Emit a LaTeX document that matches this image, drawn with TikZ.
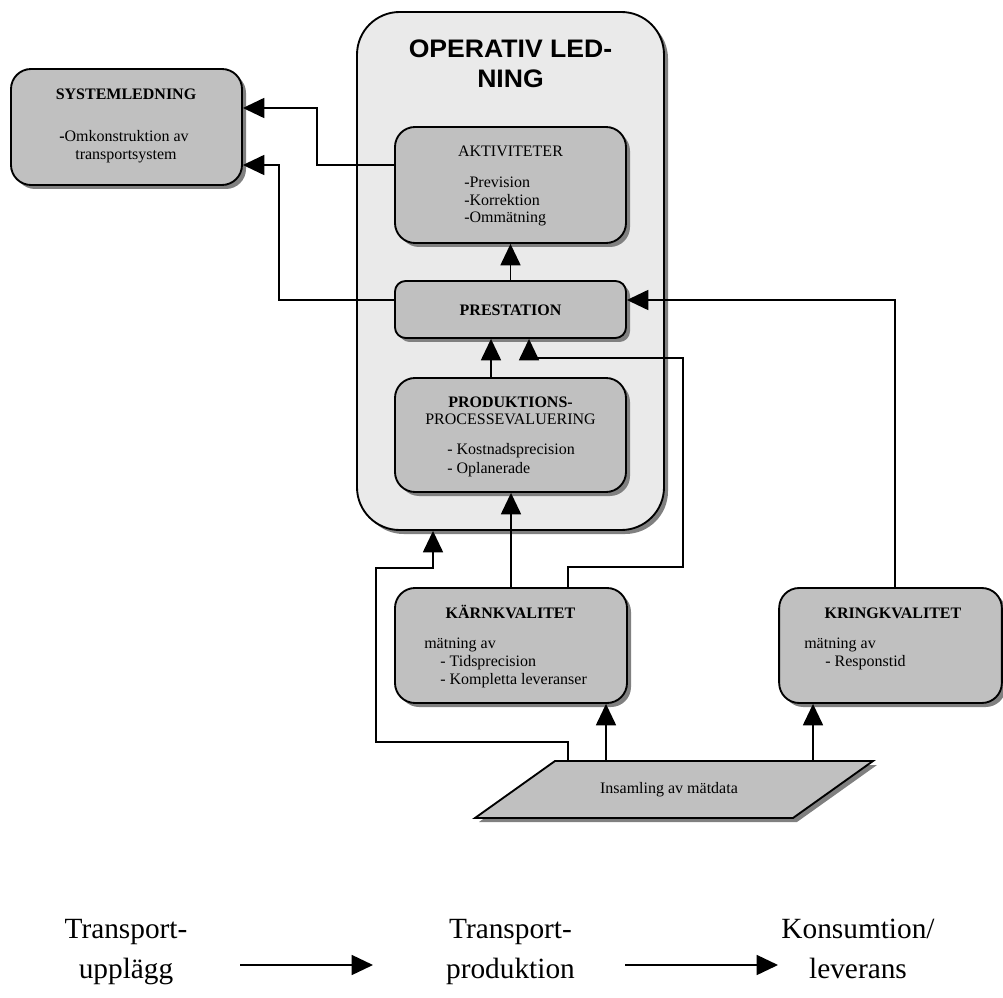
\documentclass[tikz,border=0pt]{standalone}
\usepackage{fontspec}
\setmainfont{Liberation Serif}
\newfontfamily\titlefont{Liberation Sans}
\usetikzlibrary{arrows.meta,calc,shadows}
\definecolor{boxgray}{HTML}{C0C0C0}
\definecolor{panelgray}{HTML}{EAEAEA}
\definecolor{shadowgray}{HTML}{808080}
\begin{document}
\begin{tikzpicture}[x=0.75pt,y=-0.75pt,
  font=\fontsize{12}{13}\selectfont,
  shade/.style={drop shadow={shadow xshift=3pt,shadow yshift=-3pt,fill=shadowgray,opacity=1}},
  box/.style={draw=black,line width=1.4pt,fill=boxgray,rounded corners=15pt,inner sep=0pt,shade},
  txt/.style={inner sep=0pt,anchor=base},
  bold/.style={txt,font=\fontsize{12}{13}\selectfont\bfseries},
  lst/.style={inner sep=0pt,anchor=base west},
  arr/.style={draw=black,line width=1.2pt,-{Triangle[length=16pt,width=15pt]}},
  big/.style={inner sep=0pt,anchor=base,align=center,font=\fontsize{22}{30}\selectfont},
  title/.style={txt,font=\titlefont\bfseries\fontsize{19}{22}\selectfont},
]
\useasboundingbox (0,0) rectangle (1003,998);

% operative management panel
\node[draw=black,line width=1.4pt,fill=panelgray,rounded corners=32pt,shade,
      minimum width=230.25pt,minimum height=388.5pt,inner sep=0pt] (op) at (510.5,271) {};
\node[title] (opt1) at (510.5,58) {\scalebox{1.05}[1]{OPERATIV LED-}};
\node[title] (opt2) at (510.5,88) {\scalebox{1.05}[1]{NING}};

% boxes
\node[box,minimum width=173.25pt,minimum height=87pt] (sys) at (126.5,127) {};
\node[box,minimum width=173.25pt,minimum height=87pt] (akt) at (510.5,185) {};
\node[box,rounded corners=8pt,minimum width=173.25pt,minimum height=42.75pt] (prest) at (510.5,309.5) {};
\node[box,minimum width=173.25pt,minimum height=85.5pt] (prod) at (510.5,435) {};
\node[box,minimum width=174pt,minimum height=86.25pt] (kaern) at (511,645.5) {};
\node[box,minimum width=167pt,minimum height=86.25pt] (kring) at (890.5,645.5) {};

% data collection parallelogram
\draw[fill=boxgray,line width=1.4pt,shade] (555,761) -- (873,761) -- (793,818) -- (475,818) -- cycle;
\coordinate (insA) at (568,761);
\coordinate (insB) at (606,761);
\coordinate (insC) at (813,761);
\node[txt] (ins) at (669,793) {Insamling av mätdata};

% box texts
\node[bold] (sys1) at (126,100) {SYSTEMLEDNING};
\node[txt] (sys2) at (124,142) {\textbf{-}Omkonstruktion av};
\node[txt] (sys3) at (126,160) {transportsystem};

\node[txt] (akt1) at (510.5,157) {AKTIVITETER};
\node[lst] (akt2) at (464,188) {-Prevision};
\node[lst] (akt3) at (464,205.5) {-Korrektion};
\node[lst] (akt4) at (464,223) {-Ommätning};

\node[bold] (prest1) at (510.5,316) {PRESTATION};

\node[bold] (prod1) at (510.5,407) {PRODUKTIONS-};
\node[txt] (prod2) at (510.5,425) {PROCESSEVALUERING};
\node[lst] (prod3) at (447,455) {- Kostnadsprecision};
\node[lst] (prod4) at (447,473) {- Oplanerade};

\node[bold] (kaern1) at (510.5,618) {KÄRNKVALITET};
\node[lst] (kaern2) at (424,648) {mätning av};
\node[lst] (kaern3) at (440,666) {- Tidsprecision};
\node[lst] (kaern4) at (440,684) {- Kompletta leveranser};

\node[bold] (kring1) at (893,618) {KRINGKVALITET};
\node[lst] (kring2) at (804,648) {mätning av};
\node[lst] (kring3) at (825,666) {- Responstid};

% connectors
\draw[arr] ($(akt.west)+(0,-20)$) -- ++(-77,0) |- ($(sys.east)+(0,-19)$);
\draw[arr] ($(prest.west)+(0,-9.5)$) -- ++(-115,0) |- ($(sys.east)+(0,38)$);
\draw[arr] (prest.north) -- (akt.south);
\draw[arr] ($(prod.north)+(-19.5,0)$) -- ($(prest.south)+(-19.5,0)$);
\draw[arr] ($(kaern.north)+(57,0)$) -- ++(0,-20) -- ++(115,0) |- ($(prest.south)+(18.5,19)$) -- ($(prest.south)+(18.5,0)$);
\draw[arr] (kaern.north) -- (kaern.north |- prod.south);
\draw[arr] ($(kring.north)+(4.5,0)$) |- ($(prest.east)+(0,-9.5)$);
\draw[arr] (insA) -- ++(0,-19) -- ++(-192,0) -- ++(0,-174) -| ($(op.south)+(-77.5,0)$);
\draw[arr] (insB) -- (insB |- kaern.south);
\draw[arr] (insC) -- (insC |- kring.south);

% process chain (base anchor sits on the second line)
\node[big] (t1) at (126,978) {Transport-\\upplägg};
\node[big] (t2) at (510.5,978) {Transport-\\produktion};
\node[big] (t3) at (858,978) {Konsumtion/\\leverans};
\draw[arr] ($(t1.base)+(114,-13)$) -- ($(t2.base)+(-137.5,-13)$);
\draw[arr] ($(t2.base)+(114.5,-13)$) -- ($(t3.base)+(-80,-13)$);
\end{tikzpicture}
\end{document}
